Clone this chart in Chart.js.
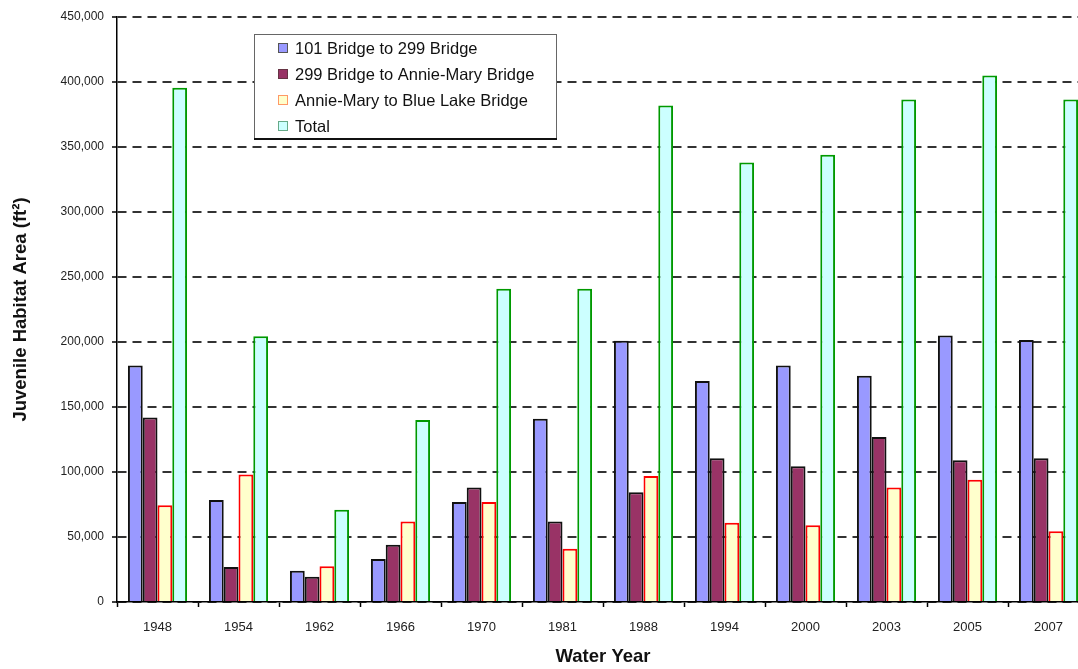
<!DOCTYPE html>
<html>
<head>
<meta charset="utf-8">
<script src="https://cdn.jsdelivr.net/npm/chart.js@4/dist/chart.umd.min.js"></script>
<style>
    html, body { margin: 0; padding: 0; background: #fff; overflow: hidden; }
    #wrap { width: 1078px; height: 669px; overflow: hidden; }
</style>
</head>
<body>
<div id="wrap"><canvas id="myChart" width="1090" height="669"></canvas></div>
<script>
const years = ['1948', '1954', '1962', '1966', '1970', '1981', '1988', '1994', '2000', '2003', '2005', '2007'];
const bridge101to299 = [182000, 78500, 24000, 33000, 77000, 141000, 201000, 170000, 182000, 174000, 205000, 201500];
const bridge299toAnnie = [142000, 27000, 19500, 44000, 88000, 62000, 84500, 110500, 104500, 127000, 109000, 110500];
const annieToBlueLake = [74500, 98000, 27500, 62000, 77000, 41000, 97000, 61000, 59000, 88000, 94000, 54500];
const total = [395500, 204500, 71000, 140000, 241000, 241000, 382000, 338000, 344000, 386500, 405000, 386500];
const yTicks = [0, 50000, 100000, 150000, 200000, 250000, 300000, 350000, 400000, 450000];

const FONT = '"Liberation Sans", Arial, sans-serif';

// legend box drawn inside the plot, like the original
const boxLegend = {
    id: 'boxLegend',
    afterDatasetsDraw(chart) {
        const ctx = chart.ctx;
        const x = chart.chartArea.left + 137;
        const y = chart.chartArea.top + 17;
        const w = 302, h = 104;
        ctx.save();
        ctx.fillStyle = '#fff';
        ctx.fillRect(x, y, w, h);
        ctx.strokeStyle = '#666';
        ctx.lineWidth = 1;
        ctx.strokeRect(x + 0.5, y + 0.5, w, h);
        ctx.strokeStyle = '#111';
        ctx.lineWidth = 2;
        ctx.beginPath();
        ctx.moveTo(x, y + h + 1);
        ctx.lineTo(x + w + 1, y + h + 1);
        ctx.stroke();
        ctx.font = '16.5px ' + FONT;
        ctx.textBaseline = 'middle';
        chart.data.datasets.forEach((ds, i) => {
            const ry = y + 14 + i * 26;
            ctx.fillStyle = ds.backgroundColor;
            ctx.fillRect(x + 24, ry - 5, 10, 10);
            ctx.strokeStyle = ds.legendBorder;
            ctx.lineWidth = 1;
            ctx.strokeRect(x + 24.5, ry - 4.5, 9, 9);
            ctx.fillStyle = '#111';
            ctx.fillText(ds.label, x + 41, ry + 1);
        });
        ctx.restore();
    }
};

const ctx = document.getElementById('myChart').getContext('2d');
const chart = new Chart(ctx, {
    type: 'bar',
    data: {
        labels: years,
        datasets: [
            {
                label: '101 Bridge to 299 Bridge',
                backgroundColor: '#9999ff',
                borderColor: '#111',
                legendBorder: '#555',
                borderWidth: 2,
                data: bridge101to299
            },
            {
                label: '299 Bridge to Annie-Mary Bridge',
                backgroundColor: '#993366',
                borderColor: '#111',
                legendBorder: '#663344',
                borderWidth: 2,
                data: bridge299toAnnie
            },
            {
                label: 'Annie-Mary to Blue Lake Bridge',
                backgroundColor: '#ffffcc',
                borderColor: '#ff0000',
                legendBorder: '#ff9966',
                borderWidth: 2,
                data: annieToBlueLake
            },
            {
                label: 'Total',
                backgroundColor: '#ccffff',
                borderColor: '#009900',
                legendBorder: '#66aa88',
                borderWidth: 2,
                data: total
            }
        ]
    },
    options: {
        responsive: false,
        animation: false,
        layout: { padding: { top: 17, right: 1, left: 0, bottom: 0 } },
        datasets: {
            bar: { categoryPercentage: 0.73, barPercentage: 1.0 }
        },
        plugins: {
            legend: { display: false },
            tooltip: { enabled: false }
        },
        scales: {
            x: {
                afterFit: (scale) => { scale.height = 67; },
                grid: {
                    display: true,
                    drawOnChartArea: false,
                    offset: true,
                    tickLength: 5,
                    tickColor: '#000',
                    tickWidth: 1.5
                },
                border: { color: '#000', width: 1.5 },
                ticks: {
                    color: '#222',
                    padding: 13,
                    font: { family: FONT, size: 13 }
                },
                title: {
                    display: true,
                    text: 'Water Year',
                    color: '#111',
                    padding: { top: 0, bottom: 1 },
                    font: { family: FONT, size: 18.5, weight: 'bold' }
                }
            },
            y: {
                min: 0,
                max: 450000,
                afterFit: (scale) => { scale.width = 117; },
                afterBuildTicks: (scale) => { scale.ticks = yTicks.map(v => ({ value: v })); },
                grid: {
                    color: '#333',
                    lineWidth: 2,
                    tickLength: 5,
                    tickColor: '#000',
                    tickWidth: 1.5,
                    tickBorderDash: []
                },
                border: { color: '#000', width: 1.5, dash: [9, 6] },
                ticks: {
                    color: '#222',
                    padding: 8,
                    font: { family: FONT, size: 12 },
                    callback: (v) => v.toLocaleString('en-US')
                },
                title: {
                    display: true,
                    text: 'Juvenile Habitat Area (ft²)',
                    color: '#111',
                    padding: { top: 10, bottom: 0 },
                    font: { family: FONT, size: 18.5, weight: 'bold' }
                }
            }
        }
    },
    plugins: [boxLegend]
});
</script>
</body>
</html>
